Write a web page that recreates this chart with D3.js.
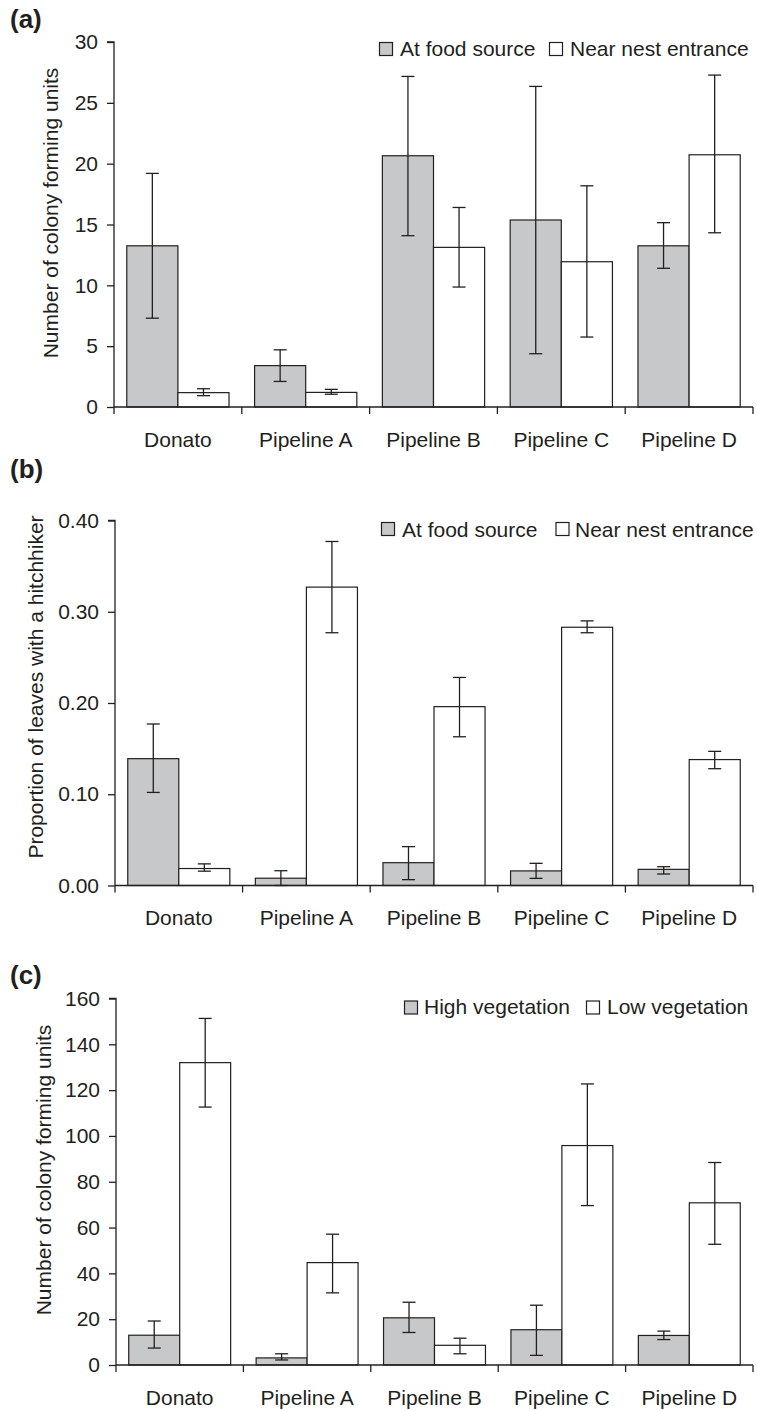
<!DOCTYPE html>
<html>
<head>
<meta charset="utf-8">
<script src="https://cdn.jsdelivr.net/npm/d3@7"></script>
<style>
  html, body { margin: 0; padding: 0; background: #fff; }
  svg { display: block; }
  text { font-family: "Liberation Sans", Arial, Helvetica, sans-serif; fill: #231f20; }
</style>
</head>
<body>
<script>
// ---------------- DATA ----------------
const categories = ["Donato", "Pipeline A", "Pipeline B", "Pipeline C", "Pipeline D"];

// Panel (a): Number of colony forming units
const aFood    = [13.25, 3.4, 20.65, 15.37, 13.25];
const aFoodLo  = [7.3, 2.1, 14.08, 4.38, 11.4];
const aFoodHi  = [19.2, 4.7, 27.17, 26.35, 15.15];
const aNest    = [1.18, 1.2, 13.12, 11.94, 20.73];
const aNestLo  = [0.93, 1.05, 9.86, 5.75, 14.32];
const aNestHi  = [1.5, 1.45, 16.4, 18.18, 27.28];
const aTicks   = [0, 5, 10, 15, 20, 25, 30];

// Panel (b): Proportion of leaves with a hitchhiker
const bFood    = [0.139, 0.008, 0.025, 0.016, 0.0177];
const bFoodLo  = [0.102, 0.0, 0.0064, 0.0078, 0.0126];
const bFoodHi  = [0.177, 0.0162, 0.0426, 0.0243, 0.0206];
const bNest    = [0.0186, 0.327, 0.196, 0.283, 0.138];
const bNestLo  = [0.0157, 0.277, 0.163, 0.277, 0.128];
const bNestHi  = [0.0237, 0.377, 0.228, 0.290, 0.147];
const bTicks   = [0, 0.1, 0.2, 0.3, 0.4];

// Panel (c): Number of colony forming units by vegetation
const cHigh    = [13.0, 3.1, 20.6, 15.4, 12.9];
const cHighLo  = [7.4, 2.2, 14.2, 4.2, 11.1];
const cHighHi  = [19.2, 4.9, 27.4, 26.1, 14.8];
const cLow     = [132.0, 44.7, 8.6, 95.8, 70.8];
const cLowLo   = [112.6, 31.5, 4.9, 69.6, 52.7];
const cLowHi   = [151.3, 57.1, 11.7, 122.7, 88.4];
const cTicks   = [0, 20, 40, 60, 80, 100, 120, 140, 160];

const legendA = ["At food source", "Near nest entrance"];
const legendC = ["High vegetation", "Low vegetation"];

// ---------------- DRAW ----------------
const W = 757, H = 1411;
const svg = d3.select("body").append("svg").attr("width", W).attr("height", H);
svg.append("rect").attr("width", W).attr("height", H).attr("fill", "#fff");

const INK = "#231f20";
const GREY = "#c7c8ca";
const FS = 21;

function panel(cfg) {
  const g = svg.append("g");
  const x = d3.scaleBand().domain(categories).range([cfg.left, cfg.right]).paddingInner(0).paddingOuter(0);
  const xs = d3.scaleBand().domain([0, 1]).range([0, x.bandwidth()]).paddingOuter(0.25).paddingInner(0);
  const y = d3.scaleLinear().domain([0, cfg.max]).range([cfg.bottom, cfg.top]);

  // panel label
  g.append("text").attr("x", 10).attr("y", cfg.labelY)
    .attr("font-size", 26).attr("font-weight", "bold").text(cfg.label);

  // y axis title
  g.append("text")
    .attr("transform", `translate(${cfg.titleX},${cfg.titleY}) rotate(-90)`)
    .attr("text-anchor", "middle").attr("font-size", FS).text(cfg.title);

  // bars
  const series = [
    { vals: cfg.s1, lo: cfg.s1lo, hi: cfg.s1hi, fill: GREY },
    { vals: cfg.s2, lo: cfg.s2lo, hi: cfg.s2hi, fill: "#fff" }
  ];
  series.forEach((s, si) => {
    const gg = g.append("g");
    gg.selectAll("rect").data(categories).join("rect")
      .attr("x", (c) => x(c) + xs(si))
      .attr("y", (c, i) => y(s.vals[i]))
      .attr("width", xs.bandwidth())
      .attr("height", (c, i) => y(0) - y(s.vals[i]))
      .attr("fill", s.fill).attr("stroke", INK).attr("stroke-width", 1.2);
  });
  // error bars
  series.forEach((s, si) => {
    const eg = g.append("g").attr("stroke", INK).attr("stroke-width", 1.3);
    categories.forEach((c, i) => {
      const cx = x(c) + xs(si) + xs.bandwidth() / 2;
      eg.append("line").attr("x1", cx).attr("x2", cx).attr("y1", y(s.lo[i])).attr("y2", y(s.hi[i]));
      eg.append("line").attr("x1", cx - 6.5).attr("x2", cx + 6.5).attr("y1", y(s.hi[i])).attr("y2", y(s.hi[i]));
      eg.append("line").attr("x1", cx - 6.5).attr("x2", cx + 6.5).attr("y1", y(s.lo[i])).attr("y2", y(s.lo[i]));
    });
  });

  // y axis
  const yAxis = d3.axisLeft(y).tickValues(cfg.ticks).tickFormat(cfg.fmt).tickSize(7).tickPadding(9);
  const ya = g.append("g").attr("transform", `translate(${cfg.left},0)`).call(yAxis);
  ya.select(".domain").attr("stroke", INK).attr("stroke-width", 1.3).attr("d", `M-7,${cfg.top}H0V${cfg.bottom}`);
  ya.selectAll(".tick line").attr("stroke", INK).attr("stroke-width", 1.3);
  ya.selectAll(".tick text").attr("font-size", FS).attr("fill", INK)
    .attr("font-family", '"Liberation Sans", Arial, Helvetica, sans-serif');

  // x axis: line + boundary ticks
  const xa = g.append("g").attr("stroke", INK).attr("stroke-width", 1.3);
  xa.append("line").attr("x1", cfg.left).attr("x2", cfg.right).attr("y1", cfg.bottom).attr("y2", cfg.bottom);
  const bounds = categories.map((c) => x(c)).concat([x(categories[categories.length - 1]) + x.bandwidth()]);
  bounds.forEach((bx) => {
    xa.append("line").attr("x1", bx).attr("x2", bx).attr("y1", cfg.bottom).attr("y2", cfg.bottom + 7);
  });
  g.append("g").selectAll("text").data(categories).join("text")
    .attr("x", (c) => x(c) + x.bandwidth() / 2)
    .attr("y", cfg.bottom + 39.5)
    .attr("text-anchor", "middle").attr("font-size", FS).text((c) => c);

  // legend
  cfg.legend.forEach((name, li) => {
    const L = cfg.legendPos[li];
    g.append("rect").attr("x", L.sx).attr("y", cfg.legendTop).attr("width", 13).attr("height", 13)
      .attr("fill", li === 0 ? GREY : "#fff").attr("stroke", INK).attr("stroke-width", 1.2);
    g.append("text").attr("x", L.tx).attr("y", cfg.legendBase).attr("font-size", FS).text(name);
  });
}

panel({
  label: "(a)", labelY: 28,
  title: "Number of colony forming units", titleX: 58, titleY: 213,
  left: 114, right: 753, top: 42, bottom: 407, max: 30,
  ticks: aTicks, fmt: d3.format("d"),
  s1: aFood, s1lo: aFoodLo, s1hi: aFoodHi,
  s2: aNest, s2lo: aNestLo, s2hi: aNestHi,
  legend: legendA, legendTop: 42.5, legendBase: 56,
  legendPos: [{ sx: 379.5, tx: 400 }, { sx: 549.5, tx: 570 }]
});

panel({
  label: "(b)", labelY: 478,
  title: "Proportion of leaves with a hitchhiker", titleX: 43, titleY: 687,
  left: 115, right: 753, top: 520.5, bottom: 885.5, max: 0.4,
  ticks: bTicks, fmt: d3.format(".2f"),
  s1: bFood, s1lo: bFoodLo, s1hi: bFoodHi,
  s2: bNest, s2lo: bNestLo, s2hi: bNestHi,
  legend: legendA, legendTop: 522.5, legendBase: 536.5,
  legendPos: [{ sx: 381.5, tx: 402 }, { sx: 556, tx: 575 }]
});

panel({
  label: "(c)", labelY: 984,
  title: "Number of colony forming units", titleX: 51, titleY: 1170,
  left: 116, right: 753, top: 998.5, bottom: 1365, max: 160,
  ticks: cTicks, fmt: d3.format("d"),
  s1: cHigh, s1lo: cHighLo, s1hi: cHighHi,
  s2: cLow, s2lo: cLowLo, s2hi: cLowHi,
  legend: legendC, legendTop: 1001, legendBase: 1014,
  legendPos: [{ sx: 404.5, tx: 424 }, { sx: 586.5, tx: 607 }]
});
</script>
</body>
</html>
